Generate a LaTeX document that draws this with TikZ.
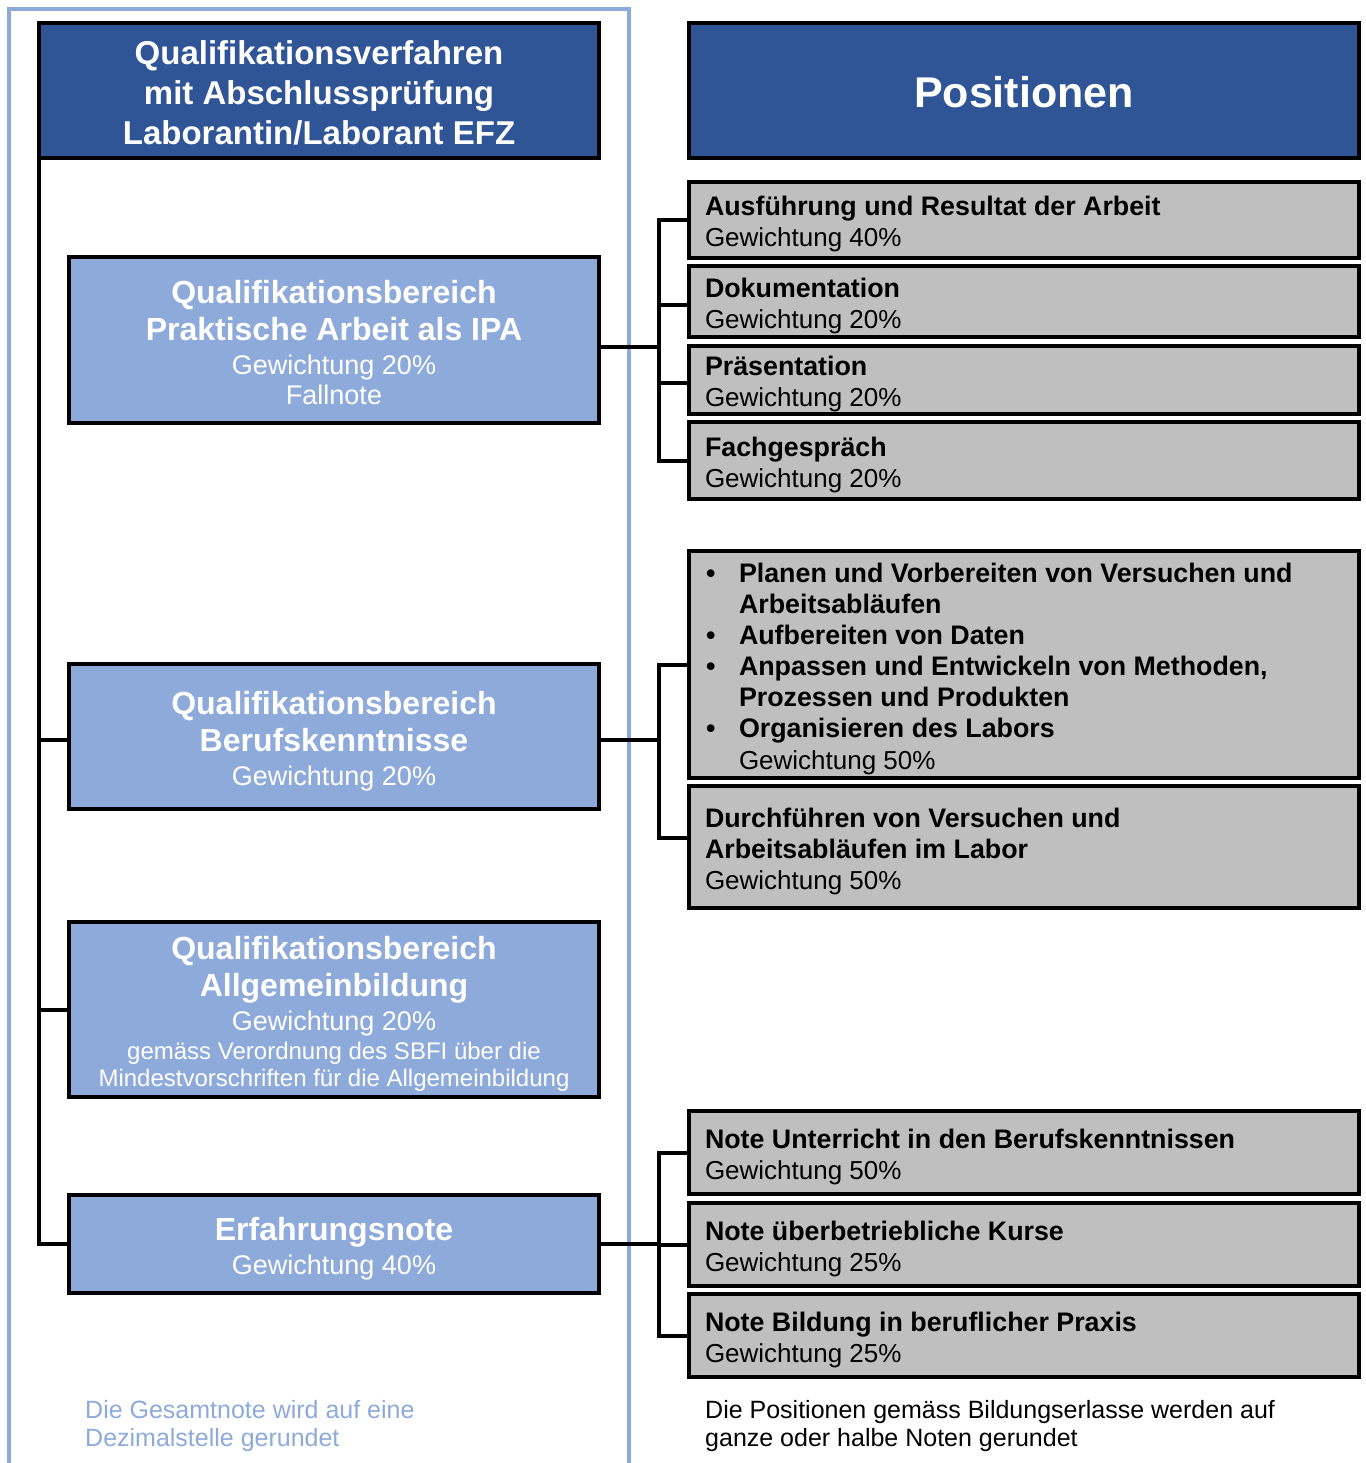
\documentclass[tikz,border=0pt]{standalone}
\usepackage{fontspec}
\setmainfont{Liberation Sans}
\definecolor{dblue}{HTML}{2F5597}
\definecolor{lblue}{HTML}{8EAADB}
\definecolor{gbox}{HTML}{BFBFBF}
\newcommand{\fsz}[2]{\fontsize{#1}{#2}\selectfont\spaceskip=0pt\xspaceskip=0pt\relax}
\newcommand{\gb}{\fontsize{26.8}{31}\selectfont\bfseries\spaceskip=0pt\xspaceskip=0pt\relax}
\newcommand{\tstrut}[1]{\rule{0pt}{#1}}
\begin{document}
\begin{tikzpicture}[x=1pt,y=-1pt,
  box/.style={draw=black, line width=4pt, rectangle, inner sep=0pt, outer sep=0pt,
    execute at begin node={\setlength{\parindent}{0pt}\spaceskip=0pt\xspaceskip=0pt\relax}},
  headbox/.style={box, fill=dblue, text=white, align=flush center, text width=540pt,
    minimum width=560pt, minimum height=135pt},
  bluebox/.style={box, fill=lblue, text=white, align=flush center, text width=520pt,
    minimum width=530pt},
  graybox/.style={box, fill=gbox, text=black, align=flush left, text width=638pt,
    inner xsep=16pt, inner ysep=0pt, minimum width=670pt, font=\fsz{26}{31}},
  conn/.style={draw=black, line width=4pt},
  framestyle/.style={draw=lblue, line width=3.5pt},
  note/.style={anchor=west, inner sep=0pt, align=left, font=\fsz{25}{28}}
]
\useasboundingbox (0,0) rectangle (1365,1463);
\fill[white] (0,0) rectangle (1365,1463);

% light blue frame
\draw[framestyle] (9,1463) -- (9,9) -- (629,9) -- (629,1463);

% headers
\node[headbox, minimum width=560pt, font=\fsz{33}{40}\bfseries] (title) at (319,90.5)
  {\tstrut{28pt}Qualifikationsverfahren\par mit Abschlussprüfung\par Laborantin/Laborant EFZ};
\node[headbox, minimum width=670pt, text width=650pt, font=\fsz{43}{50}\bfseries] (pos) at (1024,90.5)
  {\tstrut{35pt}Positionen};

% left boxes
\node[bluebox, minimum height=166pt] (ipa) at (334,340)
  {{\fsz{32}{37}\bfseries\tstrut{27.5pt}Qualifikationsbereich\par Praktische Arbeit als IPA\par}%
   {\fsz{27}{34}Gewichtung 20\%\par}%
   {\fsz{27}{30}Fallnote\par}};
\node[bluebox, minimum height=145pt] (beruf) at (334,736.5)
  {{\fsz{32}{37}\bfseries\tstrut{32.5pt}Qualifikationsbereich\par Berufskenntnisse\par}%
   {\fsz{27}{34}Gewichtung 20\%\par}};
\node[bluebox, minimum height=175pt] (allg) at (334,1009.5)
  {{\fsz{32}{37}\bfseries\tstrut{32pt}Qualifikationsbereich\par Allgemeinbildung\par}%
   {\fsz{27}{34}Gewichtung 20\%\par}%
   {\fsz{24}{29}gemäss Verordnung des SBFI über die\par}%
   {\fsz{24}{27}Mindestvorschriften für die Allgemeinbildung\par}};
\node[bluebox, minimum height=98pt] (erf) at (334,1244)
  {{\fsz{32}{37}\bfseries\tstrut{33pt}Erfahrungsnote\par}%
   {\fsz{27}{34}Gewichtung 40\%\par}};

% right boxes, group A
\node[graybox, minimum height=76pt] (a1) at (1024,220)
  {{\gb\tstrut{26.5pt}Ausführung und Resultat der Arbeit\par}Gewichtung 40\%};
\node[graybox, minimum height=71pt] (a2) at (1024,301.5)
  {{\gb\tstrut{28pt}Dokumentation\par}Gewichtung 20\%};
\node[graybox, minimum height=68pt] (a3) at (1024,380)
  {{\gb\tstrut{28pt}Präsentation\par}Gewichtung 20\%};
\node[graybox, minimum height=77pt] (a4) at (1024,460.5)
  {{\gb\tstrut{27.5pt}Fachgespräch\par}Gewichtung 20\%};

% group B
\node[graybox, minimum height=227pt, font=\fsz{26}{31.5}] (b1) at (1024,664.5)
  {{\gb\tstrut{28pt}\makebox[34pt][l]{\hspace{1pt}\textbullet}Planen und Vorbereiten von Versuchen und\par}%
   {\gb\hspace*{34pt}Arbeitsabläufen\par}%
   {\gb\makebox[34pt][l]{\hspace{1pt}\textbullet}Aufbereiten von Daten\par}%
   {\gb\makebox[34pt][l]{\hspace{1pt}\textbullet}Anpassen und Entwickeln von Methoden,\par}%
   {\gb\hspace*{34pt}Prozessen und Produkten\par}%
   {\gb\makebox[34pt][l]{\hspace{1pt}\textbullet}Organisieren des Labors\par}%
   \hspace*{34pt}Gewichtung 50\%};
\node[graybox, minimum height=122pt] (b2) at (1024,847)
  {{\gb\tstrut{27.5pt}Durchführen von Versuchen und\par Arbeitsabläufen im Labor\par}Gewichtung 50\%};

% group C
\node[graybox, minimum height=83pt] (c1) at (1024,1152.5)
  {{\gb\tstrut{28pt}Note Unterricht in den Berufskenntnissen\par}Gewichtung 50\%};
\node[graybox, minimum height=83pt] (c2) at (1024,1244.5)
  {{\gb\tstrut{27.5pt}Note überbetriebliche Kurse\par}Gewichtung 25\%};
\node[graybox, minimum height=83pt] (c3) at (1024,1335.5)
  {{\gb\tstrut{27.5pt}Note Bildung in beruflicher Praxis\par}Gewichtung 25\%};

% notes
\node[note, text=lblue] (noteL) at (85,1426)
  {Die Gesamtnote wird auf eine\\Dezimalstelle gerundet};
\node[note, text=black] (noteR) at (705,1426)
  {Die Positionen gemäss Bildungserlasse werden auf\\ganze oder halbe Noten gerundet};

% connector attachment points
\coordinate (bx) at (659,0);
\coordinate (lx) at (title.south west);
\coordinate (berufW) at ([yshift=-3pt]beruf.west);
\coordinate (berufE) at ([yshift=-3pt]beruf.east);
\coordinate (ipaE) at ([yshift=-7pt]ipa.east);
\coordinate (a2W) at ([yshift=-3pt]a2.west);
\coordinate (a3W) at ([yshift=-3pt]a3.west);
\coordinate (b2W) at ([yshift=9pt]b2.west);

% connectors left
\draw[conn] (title.south west) |- (erf.west);
\draw[conn] (berufW) -- (berufW -| lx);
\draw[conn] (allg.west) -- (allg.west -| lx);

% connectors right
\draw[conn] (ipaE) -- (ipaE -| bx);
\draw[conn] (a1.west) -| (bx |- a4.west) -- (a4.west);
\draw[conn] (a2W) -- (a2W -| bx);
\draw[conn] (a3W) -- (a3W -| bx);

\draw[conn] (berufE) -- (berufE -| bx);
\draw[conn] (b1.west) -| (bx |- b2W) -- (b2W);

\draw[conn] (erf.east) -- (erf.east -| bx);
\draw[conn] (c1.west) -| (bx |- c3.west) -- (c3.west);
\draw[conn] (c2.west) -- (c2.west -| bx);
\end{tikzpicture}
\end{document}
